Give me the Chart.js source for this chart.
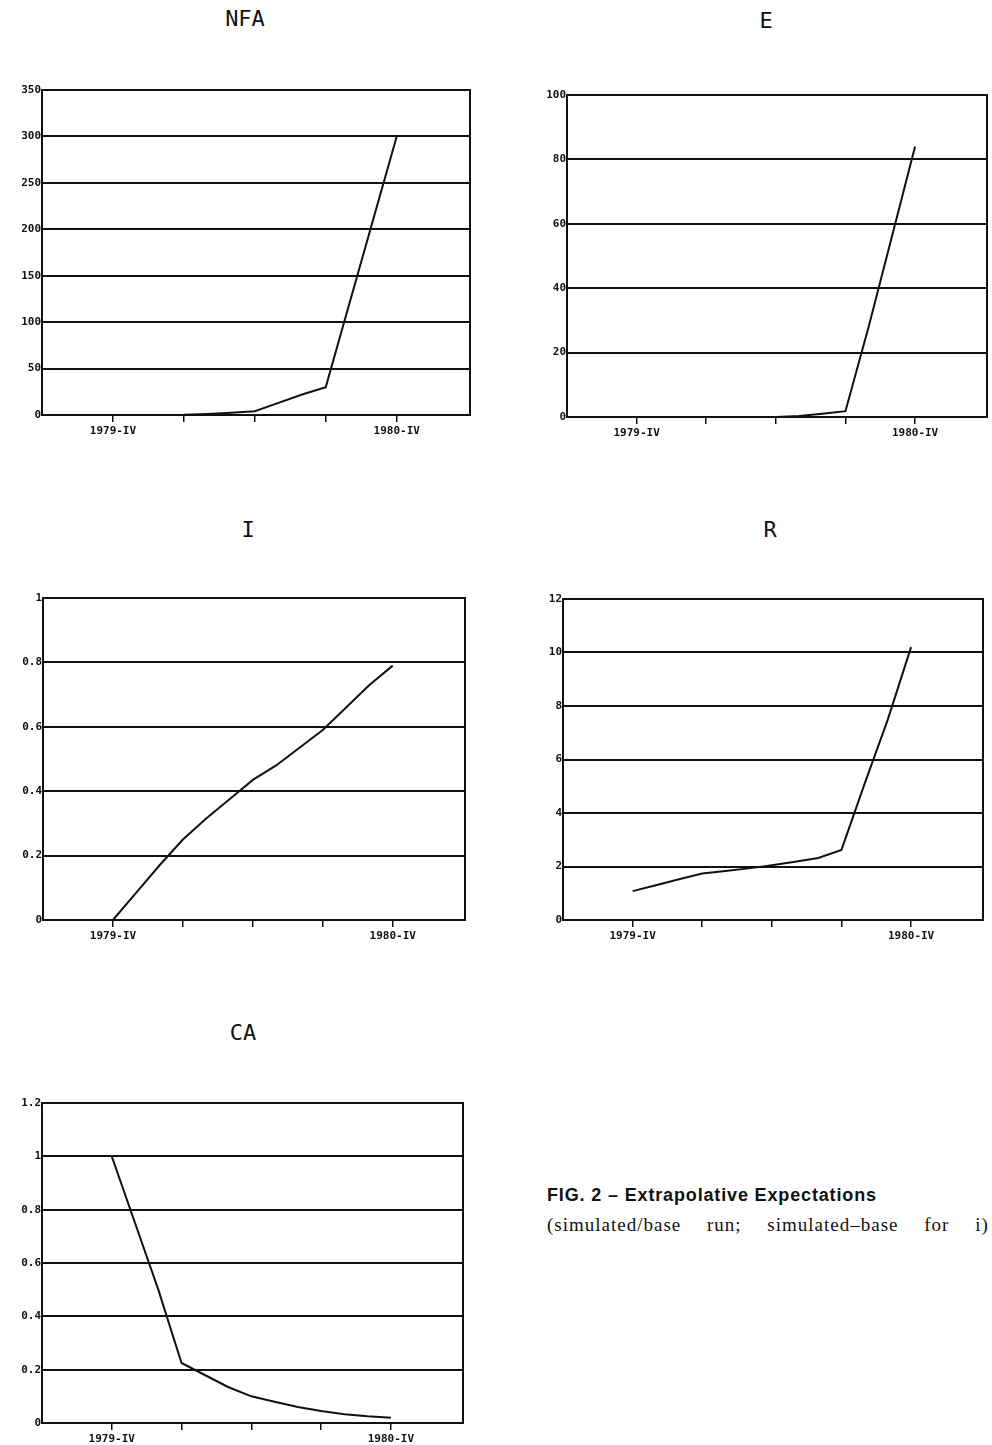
<!DOCTYPE html>
<html>
<head>
<meta charset="utf-8">
<script src="https://cdn.jsdelivr.net/npm/chart.js@4.4.1/dist/chart.umd.min.js"></script>
<style>
  body { margin: 0; background: #fff; width: 992px; height: 1445px; position: relative; overflow: hidden; }
  canvas { position: absolute; }
  .ttl { position: absolute; font-family: 'DejaVu Sans Mono', monospace; font-size: 22px; color: #111; transform: translateX(-50%); line-height: 1; }
  .cap1 { position: absolute; left: 547px; top: 1185px; font-family: 'Liberation Sans', sans-serif; font-weight: bold; font-size: 18px; letter-spacing: 0.85px; color: #111; white-space: nowrap; }
  .cap2 { position: absolute; left: 547px; top: 1214px; font-family: 'Liberation Serif', serif; font-size: 19px; letter-spacing: 1px; word-spacing: 20px; color: #111; white-space: nowrap; }
</style>
</head>
<body>
<div class="ttl" style="left:245px; top:8px;">NFA</div>
<div class="ttl" style="left:766px; top:10px;">E</div>
<div class="ttl" style="left:248px; top:519px;">I</div>
<div class="ttl" style="left:770px; top:519px;">R</div>
<div class="ttl" style="left:243px; top:1022px;">CA</div>
<canvas id="nfa"></canvas>
<canvas id="e"></canvas>
<canvas id="i"></canvas>
<canvas id="r"></canvas>
<canvas id="ca"></canvas>
<div class="cap1">FIG. 2 – Extrapolative Expectations</div>
<div class="cap2">(simulated/base run; simulated–base for i)</div>
<script>
// months counted from 1979-IV (0) to 1980-IV (12)
const months = [0, 1, 2, 3, 4, 5, 6, 7, 8, 9, 10, 11, 12];
const quarterTicks = [0, 3, 6, 9, 12];
const quarterLabels = { 0: '1979-IV', 12: '1980-IV' };

const nfaValues = [0, 0, 0, 0.2, 1, 2.3, 4, 13, 22, 30, 120, 210, 300];
const eValues = [0, 0, 0, 0, 0, 0, 0, 0.3, 1, 1.8, 28, 56, 84];
const iValues = [0, 0.085, 0.17, 0.25, 0.315, 0.375, 0.435, 0.48, 0.535, 0.59, 0.66, 0.73, 0.79];
const rValues = [1.08, 1.3, 1.52, 1.74, 1.83, 1.93, 2.05, 2.18, 2.32, 2.62, 5.1, 7.5, 10.2];
const caValues = [1, 0.75, 0.5, 0.225, 0.18, 0.135, 0.1, 0.08, 0.06, 0.045, 0.033, 0.025, 0.02];

const ink = '#111';
const tickFont = { family: 'DejaVu Sans Mono', size: 11, weight: 'bold' };

const frame = {
  id: 'frame',
  afterDraw(chart) {
    const { ctx, chartArea: a } = chart;
    ctx.save();
    ctx.strokeStyle = ink;
    ctx.lineWidth = 2;
    ctx.strokeRect(a.left, a.top, a.right - a.left, a.bottom - a.top);
    ctx.restore();
  }
};

function makePanel(id, area, values, yMax, yStep) {
  const canvas = document.getElementById(id);
  const padL = 50, padT = 12, padR = 10, padB = 40;
  canvas.width = area.r - area.l + padL + padR;
  canvas.height = area.b - area.t + padT + padB;
  canvas.style.left = (area.l - padL) + 'px';
  canvas.style.top = (area.t - padT) + 'px';

  new Chart(canvas, {
    type: 'line',
    data: {
      datasets: [{
        data: months.map((m, k) => ({ x: m, y: values[k] })),
        borderColor: ink,
        borderWidth: 2,
        pointRadius: 0,
        tension: 0,
        fill: false,
      }]
    },
    options: {
      responsive: false,
      animation: false,
      devicePixelRatio: 1,
      layout: { padding: { top: padT, right: padR, left: 0, bottom: 0 } },
      plugins: { legend: { display: false }, tooltip: { enabled: false } },
      scales: {
        x: {
          type: 'linear',
          min: -3,
          max: 15.1,
          afterBuildTicks: ax => { ax.ticks = quarterTicks.map(v => ({ value: v })); },
          afterFit: ax => { ax.height = padB; },
          ticks: {
            autoSkip: false,
            maxRotation: 0,
            padding: 3,
            color: ink,
            font: tickFont,
            callback: v => quarterLabels[v] || '',
          },
          grid: { drawOnChartArea: false, drawTicks: true, tickLength: 7, color: ink, lineWidth: 1.5 },
          border: { display: true, color: ink, width: 2 },
        },
        y: {
          min: 0,
          max: yMax,
          afterFit: ax => { ax.width = padL; },
          ticks: {
            stepSize: yStep,
            padding: 1,
            color: ink,
            font: tickFont,
            callback: v => String(Number(v.toFixed(3))),
          },
          grid: { color: ink, lineWidth: 2, drawTicks: false },
          border: { display: true, color: ink, width: 2 },
        }
      }
    },
    plugins: [frame]
  });
}

makePanel('nfa', { l: 42, t: 90, r: 470, b: 415 }, nfaValues, 350, 50);
makePanel('e', { l: 567, t: 95, r: 987, b: 417 }, eValues, 100, 20);
makePanel('i', { l: 43, t: 598, r: 465, b: 920 }, iValues, 1, 0.2);
makePanel('r', { l: 563, t: 599, r: 983, b: 920 }, rValues, 12, 2);
makePanel('ca', { l: 42, t: 1103, r: 463, b: 1423 }, caValues, 1.2, 0.2);
</script>
</body>
</html>
